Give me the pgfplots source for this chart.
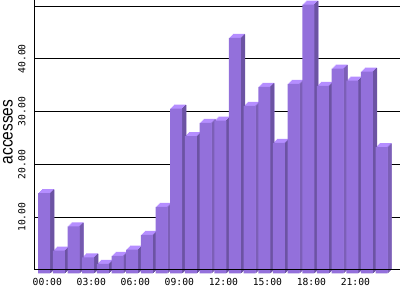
\documentclass[border=0pt]{standalone}
\usepackage{pgfplots}
\pgfplotsset{compat=1.18}
\usepackage{pgfplotstable}
\usepackage{fontspec}
\usepackage{graphicx}
\setmainfont{Liberation Sans}
\newfontfamily\monofont{DejaVu Sans Mono}
\definecolor{barfront}{RGB}{147,112,219}
\definecolor{bartop}{RGB}{181,142,255}
\definecolor{barside}{RGB}{108,83,163}

\pgfplotstableread{
h v
0 15.2
1 4.3
2 8.9
3 3.0
4 1.8
5 3.3
6 4.5
7 7.3
8 12.6
9 31.2
10 26.0
11 28.5
12 28.9
13 44.6
14 31.7
15 35.3
16 24.7
17 35.9
18 50.9
19 35.5
20 38.75
21 36.5
22 38.2
23 23.9
}\datatable

\begin{document}
\begin{tikzpicture}
\begin{axis}[
  at={(35pt,30pt)}, anchor=south west,
  scale only axis, width=365pt, height=270pt,
  xmin=-0.627, xmax=24.25, ymin=0, ymax=51.14,
  axis x line*=bottom, axis y line*=left,
  axis line style={line width=1pt, black, -},
  clip=false,
  ybar, bar width=12pt,
  ymajorgrids, grid style={black, line width=1pt},
  ytick={10,20,30,40,50},
  yticklabels={10.00,20.00,30.00,40.00,{}},
  xtick={0,3,6,9,12,15,18,21},
  xticklabels={00:00,03:00,06:00,09:00,12:00,15:00,18:00,21:00},
  major tick length=0pt,
  /pgf/number format/assume math mode=true,
  tick label style={font=\monofont\fontsize{9.7}{10}\selectfont},
  xticklabel style={anchor=north, inner sep=0pt, xshift=3.1pt, yshift=-8.2pt},
  yticklabel style={xshift=-9.3pt, rotate=90, anchor=south, inner sep=0pt},
  ylabel={\scalebox{1}[1.15]{accesses}},
  ylabel style={font=\fontsize{15.5}{16}\selectfont, at={(axis description cs:-0.074,0.511)}, anchor=center, inner sep=0pt},
]
% top face (light) staircase copies
\addplot[fill=bartop, draw=none, bar shift=4pt, yshift=0.7pt] table[x=h,y=v]{\datatable};
\addplot[fill=bartop, draw=none, bar shift=3pt, yshift=-0.3pt] table[x=h,y=v]{\datatable};
\addplot[fill=bartop, draw=none, bar shift=2pt, yshift=-1.3pt] table[x=h,y=v]{\datatable};
\addplot[fill=bartop, draw=none, bar shift=1pt, yshift=-2.3pt] table[x=h,y=v]{\datatable};
% side face (dark) strips
\addplot[fill=barside, draw=none, bar width=1.15pt, bar shift=6.5pt, yshift=-2.8pt] table[x=h,y=v]{\datatable};
\addplot[fill=barside, draw=none, bar width=1.15pt, bar shift=7.5pt, yshift=-1.8pt] table[x=h,y=v]{\datatable};
\addplot[fill=barside, draw=none, bar width=1.15pt, bar shift=8.5pt, yshift=-0.8pt] table[x=h,y=v]{\datatable};
\addplot[fill=barside, draw=none, bar width=1.15pt, bar shift=9.5pt, yshift=0.2pt] table[x=h,y=v]{\datatable};
% front face
\addplot[fill=barfront, draw=none, bar shift=0pt, yshift=-3.3pt] table[x=h,y=v]{\datatable};
% x axis line drawn over the bars
\addplot[sharp plot, black, line width=1pt, forget plot] coordinates {(-0.627,0) (24.25,0)};
\end{axis}
\pgfresetboundingbox
\path[use as bounding box] (0,0) rectangle (400pt,300pt);
\end{tikzpicture}
\end{document}
